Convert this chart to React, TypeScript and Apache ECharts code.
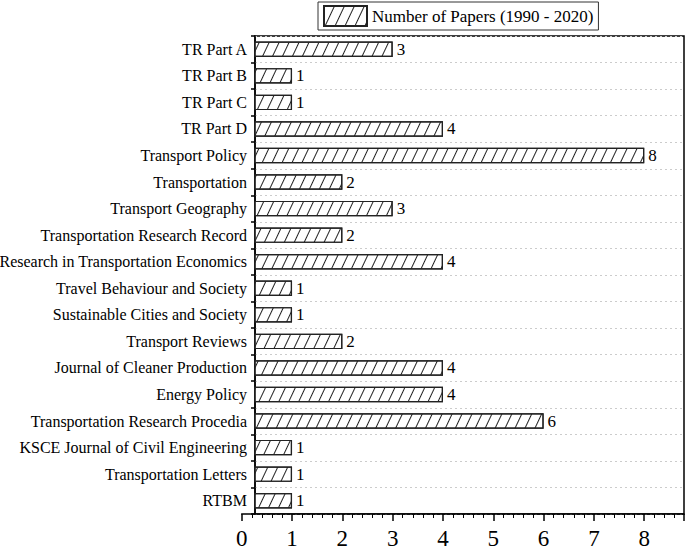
import React, { useEffect, useRef } from "react";
import * as echarts from "echarts";

const categories = [
  "TR Part A",
  "TR Part B",
  "TR Part C",
  "TR Part D",
  "Transport Policy",
  "Transportation",
  "Transport Geography",
  "Transportation Research Record",
  "Research in Transportation Economics",
  "Travel Behaviour and Society",
  "Sustainable Cities and Society",
  "Transport Reviews",
  "Journal of Cleaner Production",
  "Energy Policy",
  "Transportation Research Procedia",
  "KSCE Journal of Civil Engineering",
  "Transportation Letters",
  "RTBM",
];
const papers = [3, 1, 1, 4, 8, 2, 3, 2, 4, 1, 1, 2, 4, 4, 6, 1, 1, 1];
const seriesName = "Number of Papers (1990 - 2020)";

const FONT = "Liberation Serif";
const AXIS_MAX = 8.79;
const FRAME_MIN = 0.264;

export default function App() {
  const ref = useRef<HTMLDivElement>(null);
  useEffect(() => {
    if (!ref.current) return;
    const chart = echarts.init(ref.current, undefined, { renderer: "svg" });
    chart.setOption({
      animation: false,
      backgroundColor: "#fff",
      textStyle: { fontFamily: FONT, color: "#000" },
      legend: {
        left: 318,
        top: 2,
        padding: [3, 5],
        icon: "rect",
        itemWidth: 43,
        itemHeight: 20,
        itemGap: 5,
        borderColor: "#333",
        borderWidth: 1,
        textStyle: { fontFamily: FONT, fontSize: 17, color: "#000" },
        data: [seriesName],
      },
      grid: [
        {
          left: 255,
          right: 1,
          top: 36,
          bottom: 40,
          show: true,
          borderColor: "#000",
          borderWidth: 1.5,
          containLabel: false,
          outerBoundsMode: "none",
        },
        {
          left: 241.7,
          right: 1,
          top: 36,
          bottom: 40,
          show: false,
          containLabel: false,
          outerBoundsMode: "none",
        },
      ],
      xAxis: [
        {
          type: "value",
          gridIndex: 0,
          min: FRAME_MIN,
          max: AXIS_MAX,
          axisLine: { show: false },
          axisTick: { show: false },
          axisLabel: { show: false },
          splitLine: { show: false },
        },
        {
          type: "value",
          gridIndex: 1,
          min: 0,
          max: AXIS_MAX,
          interval: 1,
          axisLine: { show: true, lineStyle: { color: "#000", width: 1.5 } },
          axisTick: { show: true, length: 7, lineStyle: { color: "#000", width: 1.5 } },
          minorTick: { show: true, splitNumber: 5, length: 4, lineStyle: { color: "#000", width: 1 } },
          axisLabel: {
            fontFamily: FONT,
            fontSize: 23,
            color: "#000",
            margin: 13,
            showMaxLabel: false,
            formatter: (v: number) => (Number.isInteger(v) ? String(v) : ""),
          },
          splitLine: { show: false },
        },
      ],
      yAxis: [
        {
          type: "category",
          gridIndex: 0,
          inverse: true,
          data: categories,
          axisLine: { show: true, lineStyle: { color: "#000", width: 1.5 } },
          axisTick: { show: true, length: 4, lineStyle: { color: "#000", width: 1.5 } },
          axisLabel: { fontFamily: FONT, fontSize: 16, color: "#000", margin: 8 },
          splitLine: { show: true, lineStyle: { color: "#ccc", type: [2, 3], width: 1 } },
        },
        {
          type: "category",
          gridIndex: 1,
          show: false,
          data: categories,
        },
      ],
      series: [
        {
          name: seriesName,
          type: "bar",
          xAxisIndex: 0,
          yAxisIndex: 0,
          data: papers,
          barWidth: "58%",
          clip: true,
          itemStyle: {
            color: "#fff",
            borderColor: "#222",
            borderWidth: 1.2,
            decal: {
              symbol: "rect",
              symbolSize: 1,
              dashArrayX: [1, 0],
              dashArrayY: [0.8, 7.8],
              rotation: -1.13,
              color: "#222",
            },
          },
          label: {
            show: true,
            position: "right",
            distance: 4,
            fontFamily: FONT,
            fontSize: 17,
            color: "#000",
          },
        },
      ],
    });
    return () => chart.dispose();
  }, []);
  return (
    <div
      ref={ref}
      style={{ position: "fixed", left: 0, top: 0, width: 685, height: 554 }}
    />
  );
}
